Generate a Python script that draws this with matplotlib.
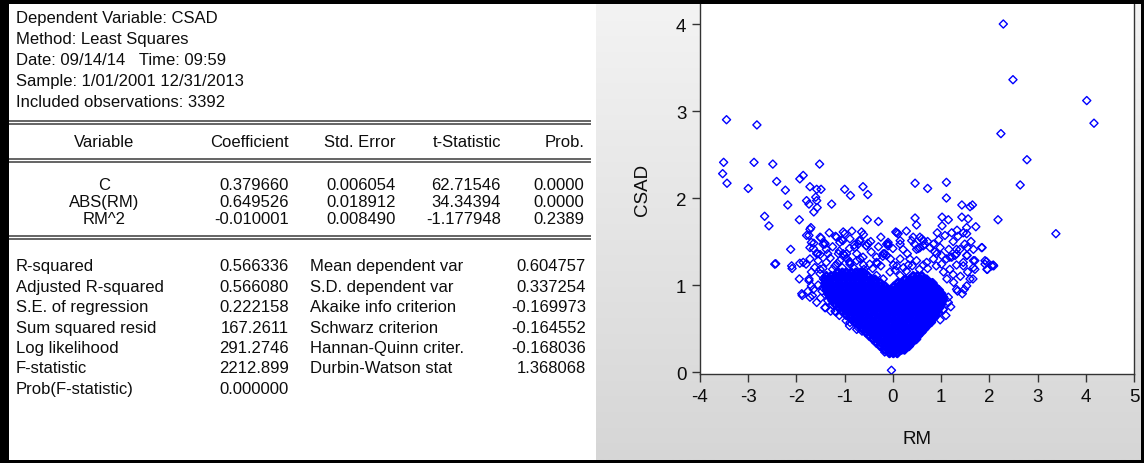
import matplotlib
matplotlib.use("Agg")
import matplotlib.pyplot as plt
import numpy as np
from matplotlib.colors import to_rgb
from matplotlib.patches import Rectangle

W, H = 1144, 464

plt.rcParams["font.family"] = ["Liberation Sans", "DejaVu Sans"]

# ---- regression output (left panel) ----
HEADER_LINES = [
    "Dependent Variable: CSAD",
    "Method: Least Squares",
    "Date: 09/14/14   Time: 09:59",
    "Sample: 1/01/2001 12/31/2013",
    "Included observations: 3392",
]
COEF_COLUMNS = ["Variable", "Coefficient", "Std. Error", "t-Statistic", "Prob."]
COEF_ROWS = [
    ["C", "0.379660", "0.006054", "62.71546", "0.0000"],
    ["ABS(RM)", "0.649526", "0.018912", "34.34394", "0.0000"],
    ["RM^2", "-0.010001", "0.008490", "-1.177948", "0.2389"],
]
STAT_LABELS_L = ["R-squared", "Adjusted R-squared", "S.E. of regression",
                 "Sum squared resid", "Log likelihood", "F-statistic",
                 "Prob(F-statistic)"]
STAT_VALUES_L = ["0.566336", "0.566080", "0.222158", "167.2611", "291.2746",
                 "2212.899", "0.000000"]
STAT_LABELS_R = ["Mean dependent var", "S.D. dependent var",
                 "Akaike info criterion", "Schwarz criterion",
                 "Hannan-Quinn criter.", "Durbin-Watson stat"]
STAT_VALUES_R = ["0.604757", "0.337254", "-0.169973", "-0.164552",
                 "-0.168036", "1.368068"]

# ---- scatter: CSAD against RM ----
OUT_X = [4.02, 4.17, 2.24, 2.78, 2.64, 3.38, 2.18, 2.29, 2.49,
         0.46, 0.72, 1.11, 1.11, 1.43, 1.60, 1.65, 0.46, 0.49, 1.02, 1.15,
         1.02, 1.43, 1.56, 1.53, 1.72, 1.33, 1.22, 1.46, 0.92, 1.08, 1.35,
         1.53, 1.85, 1.94, 2.08, 1.96, 1.70, 1.67, 1.54, 1.46, 0.06, 0.11,
         -0.13, -0.17, 0.15, 0.42, 0.56, 0.63, 0.39, 0.21, 1.16, 1.39, 1.54,
         1.67, 1.53, 1.29, 1.11, 1.01, 0.87, 0.77, 0.56,
         -3.45, -2.82, -3.51, -2.88, -2.49, -1.52, -3.53, -3.44, -3.00, -2.41,
         -2.23, -1.93, -1.86, -1.72, -2.18, -2.66, -2.57, -1.58, -1.49, -1.60,
         -1.79, -1.74, -1.58, -1.57, -1.64, -1.27, -1.00, -0.88, -0.62, -0.52,
         -1.94, -1.70, -1.74, -1.79, -0.53, -0.30, -2.12, -2.45, -2.43, -1.19,
         -1.03, -1.00, -1.49, -1.41, -1.64, -1.72, -0.65, -1.06, -0.80, -0.70,
         -0.52, -2.09, -1.93, -1.80, -1.94, -1.74, -1.56, -1.35, -1.13, -0.96,
         -1.69, -1.65, -1.51, -1.45, -1.38, -1.17, -0.89, -0.68, -0.55, -0.79,
         -0.10, 0.60, 0.66, 0.49, 0.98, 1.22, 1.32, -1.72,
         -1.10, -1.00, -0.89, -0.68, -0.48, -0.34, -0.13, 0.01, 0.15, 0.32,
         0.49, 0.63, 0.84, 1.01, 1.18, 1.32, -2.10, -1.72, -1.51, -1.38, -1.20,
         -1.88, -1.67, -1.74, -1.69, -1.76, -1.47, -1.40, -1.29, -1.18, -1.11,
         -0.97, -0.90, -0.75, -0.64, -1.51, -1.44,
         1.05, 0.94, 0.80, 0.65, 0.51,
         1.12, 1.26, 1.34, 1.44, 1.48, 1.66, 1.70, 1.91, 1.95, 2.09,
         -1.04, -0.61, -0.46, -0.10, 0.08, -1.11, -0.90, -0.61, -0.32, -0.21,
         -0.03,
         -1.41, -1.10, -0.72, -0.55, -0.10, 0.15, 0.63, 0.84, 1.49, 1.84,
         -1.58, -1.03, -0.62, -0.20, 0.53, 0.91, 1.32, 1.67, 1.91, 2.05,
         -1.86, -1.69, -1.51, -0.89, -0.34, 0.08, 0.35, 0.70, 1.18, 1.46,
         1.60, 1.53, 1.32, 1.15, 1.04,
         -1.89, -1.65, -1.72, -1.41, -1.20, -0.96, -0.89, -0.72, -0.41, -0.17,
         -0.06, -0.20, -0.34, 0.15, 0.28]
OUT_Y = [3.12, 2.86, 2.74, 2.44, 2.15, 1.59, 1.75, 4.00, 3.36,
         2.17, 2.11, 2.18, 2.00, 1.92, 1.90, 1.92, 1.77, 1.69, 1.78, 1.75,
         1.68, 1.78, 1.76, 1.66, 1.67, 1.63, 1.60, 1.60, 1.60, 1.57, 1.56,
         1.59, 1.43, 1.27, 1.23, 1.18, 1.28, 1.20, 1.34, 1.26, 1.61, 1.59,
         1.47, 1.36, 1.51, 1.55, 1.55, 1.51, 1.51, 1.41, 1.41, 1.41, 1.43,
         1.41, 1.34, 1.34, 1.30, 1.34, 1.38, 1.43, 1.43,
         2.90, 2.84, 2.41, 2.41, 2.39, 2.39, 2.28, 2.17, 2.11, 2.19,
         2.09, 2.22, 2.26, 2.13, 1.92, 1.79, 1.68, 2.10, 2.10, 2.01,
         1.97, 1.93, 1.97, 1.89, 1.84, 1.93, 2.10, 2.03, 2.13, 2.04,
         1.75, 1.66, 1.57, 1.57, 1.75, 1.73, 1.41, 1.24, 1.245, 1.56,
         1.61, 1.59, 1.54, 1.48, 1.48, 1.43, 1.61, 1.52, 1.46, 1.51,
         1.48, 1.19, 1.25, 1.24, 1.07, 1.07, 1.36, 1.36, 1.36, 1.36,
         1.49, 1.42, 1.55, 1.47, 1.41, 1.55, 1.53, 1.51, 1.45, 1.43,
         1.47, 1.53, 1.47, 1.41, 1.43, 1.32, 1.36, 1.64,
         1.28, 1.34, 1.26, 1.30, 1.24, 1.32, 1.34, 1.23, 1.30, 1.23,
         1.28, 1.23, 1.30, 1.24, 1.32, 1.23, 1.22, 1.30, 1.35, 1.26, 1.22,
         0.88, 0.88, 1.05, 0.99, 0.93, 0.93, 0.74, 0.70, 0.69, 0.65,
         0.59, 0.53, 0.49, 0.47, 1.13, 1.07,
         0.72, 0.67, 0.57, 0.49, 0.42,
         1.07, 1.03, 0.93, 0.90, 0.95, 1.07, 1.18, 1.28, 1.18, 1.22,
         1.51, 1.58, 1.50, 1.45, 1.60, 1.39, 1.27, 1.23, 1.25, 1.33,
         0.02,
         1.47, 1.49, 1.47, 1.45, 1.49, 1.47, 1.45, 1.47, 1.47, 1.43,
         1.36, 1.36, 1.32, 1.36, 1.42, 1.36, 1.41, 1.28, 1.24, 1.22,
         1.26, 1.15, 1.18, 1.24, 1.26, 1.22, 1.30, 1.26, 1.18, 1.22,
         1.07, 0.99, 0.95, 0.86, 0.72,
         0.90, 0.95, 0.86, 0.74, 0.70, 0.65, 0.57, 0.51, 0.38, 0.23,
         1.15, 1.07, 1.11, 1.11, 1.16]

# busier band just above the dense centre
MID_X = [-1.62, -1.55, -1.45, -1.30, -1.25, -1.15, -1.05, -0.95, -0.80, -0.75,
         -0.60, -0.42, -0.25, -0.05, 0.05, 0.22, 0.40, 0.55, 0.72, 0.90,
         1.05, 1.25, 1.40, 1.55,
         -1.25, -0.90, -0.75, -0.45, -0.30, -0.25, 0.00, 0.30, 0.45, 0.72,
         0.95, 1.25, 1.62, -1.32, -0.85, 0.28,
         -1.55, -1.50, -1.58, -1.35, -1.25, -1.45, 1.15, 1.20, 1.10, 0.98]
MID_Y = [1.20, 1.28, 1.19, 1.31, 1.18, 1.25, 1.20, 1.30, 1.19, 1.28,
         1.18, 1.19, 1.22, 1.30, 1.17, 1.20, 1.22, 1.18, 1.19, 1.22,
         1.15, 1.12, 1.10, 1.15,
         1.44, 1.42, 1.36, 1.38, 1.44, 1.55, 1.42, 1.36, 1.47, 1.50,
         1.52, 1.50, 1.50, 1.60, 1.62, 1.62,
         1.00, 0.85, 0.80, 0.82, 0.77, 0.97, 0.80, 0.75, 0.65, 0.60]

# dense centre of the cloud: one CSAD level per row, RM values along it
CORE_Y = [0.22, 0.26, 0.30, 0.34, 0.38, 0.42, 0.46, 0.50, 0.54, 0.58, 0.62,
          0.66, 0.70, 0.74, 0.78, 0.82, 0.86, 0.90, 0.94, 0.98, 1.02, 1.06,
          1.10, 1.14]
CORE_X = [
    [-0.07, 0.01, 0.09],
    [-0.17, -0.08, 0.00, 0.09, 0.18, 0.24],
    [-0.26, -0.17, -0.08, 0.01, 0.10, 0.19, 0.28, 0.33],
    [-0.34, -0.25, -0.16, -0.07, 0.03, 0.12, 0.21, 0.30, 0.39],
    [-0.41, -0.32, -0.22, -0.13, -0.04, 0.05, 0.14, 0.23, 0.32, 0.41, 0.48],
    [-0.49, -0.40, -0.31, -0.21, -0.12, -0.03, 0.07, 0.16, 0.25, 0.34, 0.43,
     0.52],
    [-0.56, -0.47, -0.38, -0.28, -0.19, -0.10, -0.01, 0.08, 0.18, 0.27, 0.36,
     0.45, 0.53, 0.59],
    [-0.63, -0.54, -0.45, -0.36, -0.26, -0.17, -0.08, 0.02, 0.11, 0.20, 0.29,
     0.39, 0.48, 0.57, 0.65],
    [-0.71, -0.62, -0.52, -0.43, -0.34, -0.24, -0.15, -0.06, 0.04, 0.13, 0.22,
     0.32, 0.41, 0.50, 0.59, 0.67, 0.72],
    [-0.79, -0.70, -0.60, -0.51, -0.42, -0.32, -0.23, -0.14, -0.04, 0.05, 0.14,
     0.24, 0.33, 0.42, 0.52, 0.61, 0.70, 0.78],
    [-0.88, -0.78, -0.69, -0.60, -0.50, -0.41, -0.31, -0.22, -0.13, -0.03,
     0.06, 0.16, 0.25, 0.34, 0.44, 0.53, 0.62, 0.72, 0.80, 0.84],
    [-0.97, -0.87, -0.78, -0.68, -0.59, -0.49, -0.40, -0.30, -0.21, -0.12,
     -0.02, 0.07, 0.17, 0.26, 0.36, 0.45, 0.55, 0.64, 0.73, 0.82, 0.88],
    [-1.05, -0.96, -0.86, -0.77, -0.67, -0.58, -0.48, -0.39, -0.29, -0.20,
     -0.10, -0.01, 0.09, 0.18, 0.28, 0.37, 0.47, 0.56, 0.66, 0.75, 0.85, 0.92],
    [-1.12, -1.03, -0.93, -0.84, -0.74, -0.65, -0.55, -0.46, -0.36, -0.27,
     -0.17, -0.08, 0.02, 0.11, 0.21, 0.30, 0.40, 0.49, 0.59, 0.68, 0.78, 0.87,
     0.96],
    [-1.19, -1.10, -1.00, -0.91, -0.81, -0.72, -0.62, -0.53, -0.43, -0.34,
     -0.24, -0.15, -0.05, 0.04, 0.14, 0.23, 0.33, 0.42, 0.52, 0.61, 0.71, 0.80,
     0.90, 1.00],
    [-1.25, -1.15, -1.06, -0.96, -0.87, -0.77, -0.68, -0.58, -0.49, -0.39,
     -0.30, -0.20, -0.11, -0.01, 0.08, 0.18, 0.27, 0.37, 0.46, 0.56, 0.65, 0.75,
     0.84, 0.94, 1.03],
    [-1.30, -1.21, -1.11, -1.02, -0.92, -0.83, -0.73, -0.64, -0.54, -0.45,
     -0.35, -0.26, -0.16, -0.07, 0.03, 0.12, 0.22, 0.31, 0.41, 0.50, 0.60, 0.69,
     0.79, 0.88, 0.97, 1.04],
    [-1.34, -1.25, -1.15, -1.06, -0.96, -0.87, -0.77, -0.68, -0.58, -0.49,
     -0.39, -0.30, -0.20, -0.11, -0.01, 0.08, 0.18, 0.27, 0.37, 0.46, 0.56, 0.65,
     0.75, 0.84, 0.93, 1.00],
    [-1.37, -1.28, -1.18, -1.09, -0.99, -0.90, -0.80, -0.71, -0.61, -0.52,
     -0.42, -0.33, -0.23, -0.14, -0.04, 0.05, 0.15, 0.24, 0.34, 0.43, 0.53, 0.62,
     0.72, 0.81, 0.90, 0.95],
    [-1.39, -1.30, -1.20, -1.11, -1.01, -0.92, -0.82, -0.73, -0.63, -0.54,
     -0.44, -0.35, -0.25, -0.16, 0.02, 0.11, 0.21, 0.30, 0.40, 0.49, 0.59, 0.68,
     0.78, 0.87],
    [-1.40, -1.31, -1.21, -1.12, -1.02, -0.93, -0.83, -0.74, -0.64, -0.55,
     -0.45, -0.36, -0.26, 0.10, 0.19, 0.29, 0.38, 0.48, 0.57, 0.67, 0.76, 0.82],
    [-1.40, -1.30, -1.21, -1.11, -1.02, -0.92, -0.83, -0.73, -0.64, -0.54,
     -0.45, -0.37, 0.26, 0.35, 0.45, 0.54, 0.64, 0.70],
    [-1.38, -1.28, -1.19, -1.09, -1.00, -0.90, -0.81, -0.71, -0.62, -0.52,
     0.42, 0.51, 0.60],
    [-1.15, -1.05, -0.96, -0.86, -0.77, -0.67, -0.60],
]

X_TICKS = [-4, -3, -2, -1, 0, 1, 2, 3, 4, 5]
Y_TICKS = [0, 1, 2, 3, 4]

BLUE = "#0000ff"
TXT = "#0d0d0d"

fig = plt.figure(figsize=(W / 100, H / 100), dpi=100)
fig.patch.set_facecolor("white")

# background layer in pixel coordinates
bg = fig.add_axes([0, 0, 1, 1], zorder=0)
top_c = np.array(to_rgb("#f3f3f3"))
bot_c = np.array(to_rgb("#d6d6d6"))
t = np.linspace(0, 1, 256)[:, None, None]
grad = top_c * (1 - t) + bot_c * t
bg.imshow(grad, extent=(596, 1141, 461, 5), aspect="auto", interpolation="bilinear")
bg.set_xlim(0, W)
bg.set_ylim(H, 0)
bg.axis("off")

fs = 12.0
for i, line in enumerate(HEADER_LINES):
    bg.text(16, 19 + i * 20.8, line, fontsize=fs, color=TXT, va="center", ha="left")

for yy in (122, 125, 160, 163, 237, 240):
    bg.plot([9, 591], [yy, yy], color="#3a3a3a", lw=1.1, solid_capstyle="butt")

col_x = [104, 289, 396, 501, 584]
col_ha = ["center", "right", "right", "right", "right"]
for x, ha, name in zip(col_x, col_ha, COEF_COLUMNS):
    bg.text(x, 143, name, fontsize=fs, color=TXT, va="center", ha=ha)
for r, row in enumerate(COEF_ROWS):
    for x, ha, val in zip(col_x, col_ha, row):
        bg.text(x, 186 + r * 17, val, fontsize=fs, color=TXT, va="center", ha=ha)

for i, (lab, val) in enumerate(zip(STAT_LABELS_L, STAT_VALUES_L)):
    yy = 267 + i * 20.4
    bg.text(16, yy, lab, fontsize=fs, color=TXT, va="center", ha="left")
    bg.text(289, yy, val, fontsize=fs, color=TXT, va="center", ha="right")
for i, (lab, val) in enumerate(zip(STAT_LABELS_R, STAT_VALUES_R)):
    yy = 267 + i * 20.4
    bg.text(310, yy, lab, fontsize=fs, color=TXT, va="center", ha="left")
    bg.text(586, yy, val, fontsize=fs, color=TXT, va="center", ha="right")

# scatter plot
ax = fig.add_axes([700 / W, 1 - 374.5 / H, 434 / W, 369.5 / H], zorder=2)
ax.set_facecolor("white")

core_x = [x for row in CORE_X for x in row]
core_y = [y for y, row in zip(CORE_Y, CORE_X) for _ in row]
ax.scatter(core_x, core_y, marker="D", s=17, facecolors="none",
           edgecolors=BLUE, linewidths=2.0)
ax.scatter(OUT_X + MID_X, OUT_Y + MID_Y, marker="D", s=17, facecolors="none",
           edgecolors=BLUE, linewidths=1.0)

ax.set_xlim(-4, 5)
ax.set_ylim(-0.017, 4.23)
ax.set_xticks(X_TICKS)
ax.set_xticklabels([str(v) for v in X_TICKS])
ax.set_yticks(Y_TICKS)
ax.tick_params(direction="out", length=5.8, width=1, color="#333333",
               labelsize=13.5, labelcolor=TXT)
ax.tick_params(axis="x", pad=5)
ax.tick_params(axis="y", pad=4)
for side in ("left", "bottom", "right"):
    ax.spines[side].set_color("#333333")
    ax.spines[side].set_linewidth(1)
ax.spines["top"].set_visible(False)
ax.set_xlabel("RM", fontsize=13.5, color=TXT, labelpad=18)
ax.set_ylabel("CSAD", fontsize=13.5, color=TXT, labelpad=18)

# frame on top
fr = fig.add_axes([0, 0, 1, 1], zorder=5)
fr.set_xlim(0, W)
fr.set_ylim(H, 0)
fr.axis("off")
fr.patch.set_alpha(0)
for x0, y0, w, h in [(0, 0, W, 5), (0, 0, 9, H), (0, 461, W, 3), (1141, 0, 3, H)]:
    fr.add_patch(Rectangle((x0, y0), w, h, color="black", lw=0))

fig.savefig("out.png", dpi=100)
